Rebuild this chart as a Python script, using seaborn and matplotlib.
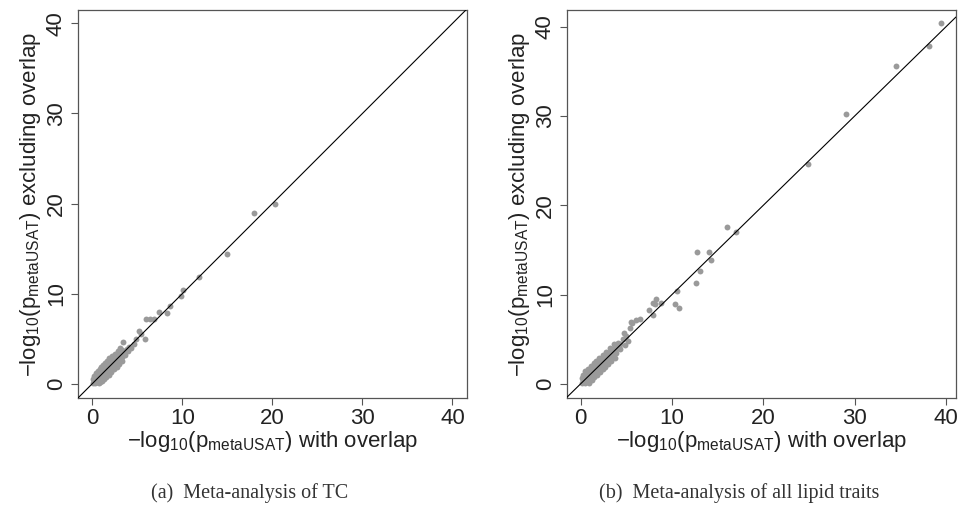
import numpy as np
import pandas as pd
import seaborn as sns
import matplotlib
matplotlib.use('Agg')
import matplotlib.pyplot as plt

##### (a) TC : dense band near origin + sparse outliers
tc_band_x = [0.2, 0.4, 0.6, 0.8, 1.0, 1.2, 1.4, 1.6, 1.9, 2.2, 2.5, 2.8, 3.1,
             0.1, 0.3, 0.5, 0.7, 0.9, 1.1, 1.3, 1.5, 1.8, 2.1, 2.4, 2.7, 3.0, 3.3,
             0.1, 0.2, 0.4, 0.6, 0.8, 1.0, 1.2, 1.4, 1.7, 2.0, 2.3, 2.6, 2.9, 3.2, 3.5, 3.8, 4.1,
             0.3, 0.5, 0.7, 0.9, 1.1, 1.3, 1.5, 1.8, 2.1, 2.4, 2.7, 3.0, 3.3, 3.6, 4.0,
             0.7, 0.9, 1.1, 1.3, 1.5, 1.8, 2.1, 2.4, 2.7, 3.0, 3.3]
tc_band_y = [0.9, 1.2, 1.4, 1.6, 1.9, 2.1, 2.3, 2.5, 2.8, 3.1, 3.3, 3.6, 3.9,
             0.5, 0.7, 0.9, 1.1, 1.3, 1.5, 1.7, 1.9, 2.2, 2.5, 2.8, 3.1, 3.4, 3.7,
             0.1, 0.2, 0.4, 0.6, 0.8, 1.0, 1.2, 1.4, 1.7, 2.0, 2.3, 2.6, 2.9, 3.2, 3.5, 3.8, 4.1,
             0.05, 0.2, 0.35, 0.5, 0.7, 0.9, 1.1, 1.4, 1.7, 2.0, 2.3, 2.6, 2.9, 3.2, 3.6,
             0.05, 0.15, 0.3, 0.5, 0.7, 1.0, 1.3, 1.6, 1.9, 2.2, 2.5]
tc_out_x = [3.4, 4.3, 4.6, 4.9, 5.2, 5.4, 5.85, 6.0, 6.4, 6.8, 7.4, 8.3, 8.6,
            9.85, 10.1, 11.8, 15.0, 17.9, 20.3]
tc_out_y = [4.6, 4.0, 4.4, 5.0, 5.8, 5.5, 4.9, 7.2, 7.2, 7.2, 7.9, 7.8, 8.6,
            9.7, 10.4, 11.8, 14.4, 19.0, 19.9]

##### (b) all lipid traits
lip_band_x = [0.2, 0.5, 0.8, 1.1, 1.4, 1.7, 2.0, 2.4, 2.8, 3.2, 3.6,
              0.1, 0.3, 0.6, 0.9, 1.2, 1.5, 1.8, 2.1, 2.4, 2.7, 3.0, 3.3, 3.7, 4.1,
              0.2, 0.5, 0.8, 1.1, 1.4, 1.7, 2.0, 2.3, 2.6, 2.9, 3.2, 3.5, 3.9, 4.3,
              0.1, 0.4, 0.7, 1.0, 1.3, 1.6, 1.9, 2.2, 2.5, 2.8, 3.1, 3.4, 3.8, 4.2,
              0.5, 0.8, 1.1, 1.4, 1.7, 2.0, 2.3, 2.6, 2.9, 3.2, 3.5, 3.9, 4.3,
              0.9, 1.2, 1.5, 1.8, 2.1, 2.4, 2.7, 3.0, 3.3, 3.7]
lip_band_y = [1.0, 1.4, 1.7, 2.0, 2.3, 2.6, 2.9, 3.2, 3.6, 4.0, 4.4,
              0.6, 0.8, 1.1, 1.4, 1.7, 2.0, 2.3, 2.6, 2.9, 3.2, 3.5, 3.8, 4.2, 4.6,
              0.4, 0.7, 1.0, 1.3, 1.6, 1.9, 2.2, 2.5, 2.8, 3.1, 3.4, 3.7, 4.1, 4.5,
              0.05, 0.3, 0.6, 0.9, 1.2, 1.5, 1.8, 2.1, 2.4, 2.7, 3.0, 3.3, 3.7, 4.1,
              0.1, 0.4, 0.7, 1.0, 1.3, 1.6, 1.9, 2.2, 2.5, 2.8, 3.1, 3.5, 3.9,
              0.1, 0.4, 0.7, 1.0, 1.3, 1.6, 1.9, 2.2, 2.5, 2.9]
lip_out_x = [4.6, 4.8, 5.0, 4.7, 5.2, 5.4, 5.5, 5.6, 6.0, 6.5, 7.5, 7.9, 7.9, 8.1,
             8.3, 8.8, 10.3, 10.5, 10.8, 12.6, 12.7, 13.1, 14.1, 14.3, 16.0, 17.0,
             24.9, 29.1, 34.5, 38.1, 39.5]
lip_out_y = [5.0, 4.3, 5.4, 5.7, 4.8, 6.2, 6.9, 6.8, 7.1, 7.3, 8.3, 7.7, 9.1, 8.9,
             9.5, 9.1, 8.9, 10.4, 8.5, 11.3, 14.8, 12.6, 14.8, 13.9, 17.6, 17.0,
             24.6, 30.2, 35.6, 37.8, 40.4]

tc = pd.DataFrame({'with_overlap': tc_band_x + tc_out_x,
                   'excluding_overlap': tc_band_y + tc_out_y})
lip = pd.DataFrame({'with_overlap': lip_band_x + lip_out_x,
                    'excluding_overlap': lip_band_y + lip_out_y})

sns.set_style('ticks')
plt.rcParams['font.family'] = ['Liberation Sans', 'DejaVu Sans']
plt.rcParams['mathtext.fontset'] = 'custom'
plt.rcParams['mathtext.rm'] = 'Liberation Sans'
plt.rcParams['mathtext.default'] = 'regular'

fig = plt.figure(figsize=(9.65, 5.08), dpi=100)
ax1 = fig.add_axes([0.0808, 0.2165, 0.403, 0.764])
ax2 = fig.add_axes([0.5876, 0.2165, 0.403, 0.764])

panels = [
    (ax1, tc, (-1.6, 41.6), (-1.6, 41.5), '(a)  Meta-analysis of TC'),
    (ax2, lip, (-1.5, 41.1), (-1.6, 41.9), '(b)  Meta-analysis of all lipid traits'),
]

xlab = r'$-$log$_{10}$(p$_{metaUSAT}$) with overlap'
ylab = r'$-$log$_{10}$(p$_{metaUSAT}$) excluding overlap'

for ax, d, xl, yl, cap in panels:
    sns.scatterplot(data=d, x='with_overlap', y='excluding_overlap', ax=ax,
                    color='#9a9a9a', s=18, linewidth=0, zorder=2)
    ax.axline((0, 0), slope=1, color='black', lw=0.8, zorder=3)
    ax.set_xlim(*xl)
    ax.set_ylim(*yl)
    ax.set_xticks([0, 10, 20, 30, 40])
    ax.set_yticks([0, 10, 20, 30, 40])
    ax.tick_params(axis='both', labelsize=16, length=5, width=0.8,
                   color='#555555', direction='out', labelcolor='#222222')
    ax.tick_params(axis='x', pad=2)
    ax.tick_params(axis='y', pad=3)
    for lab in ax.get_yticklabels():
        lab.set_rotation(90)
        lab.set_va('center')
    for sp in ax.spines.values():
        sp.set_color('#555555')
        sp.set_linewidth(0.9)
    ax.set_xlabel(xlab, fontsize=16, color='#222222', labelpad=0)
    ax.set_ylabel(ylab, fontsize=16, color='#222222', labelpad=2)
    # sub-caption sits a little left of the axes centre
    ax.text(0.442, -0.245, cap, transform=ax.transAxes, ha='center', va='center',
            fontsize=14.5, family='Liberation Serif', color='#333333')

fig.savefig('out.png', dpi=100)
